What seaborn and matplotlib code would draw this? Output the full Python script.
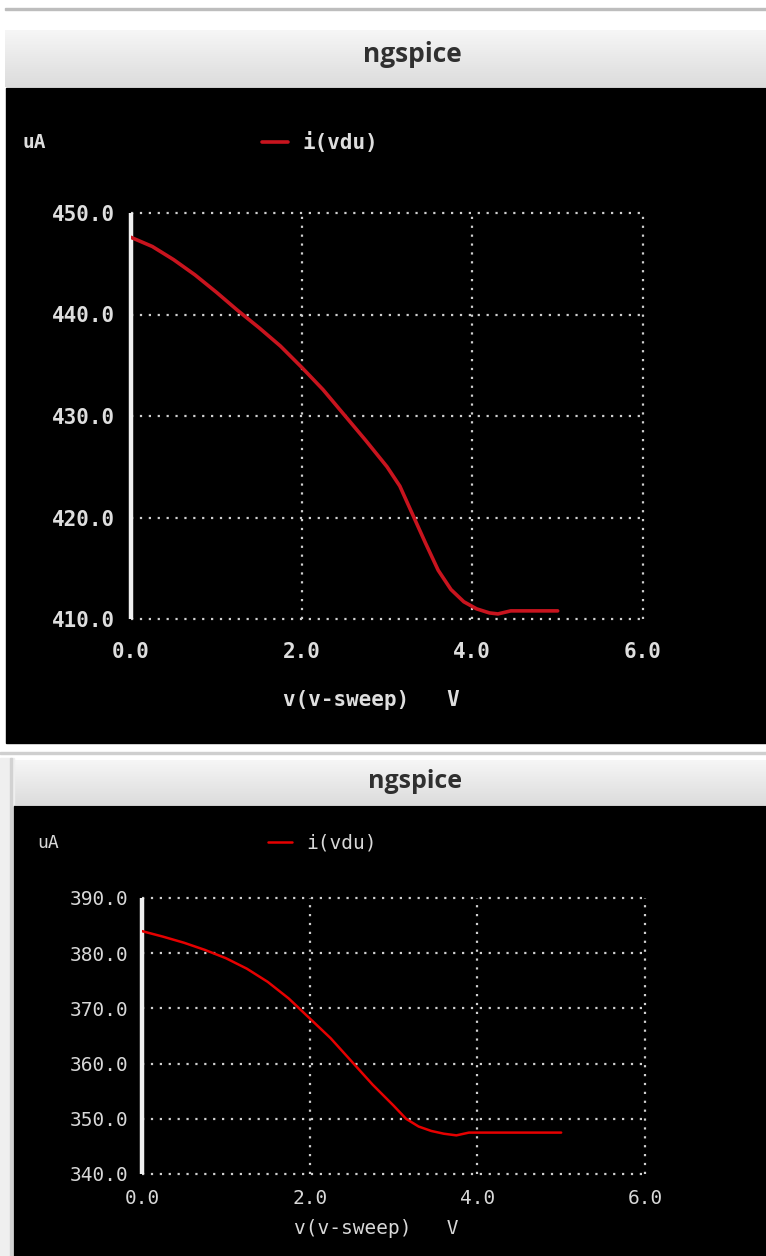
import numpy as np
import matplotlib
matplotlib.use("Agg")
import matplotlib.pyplot as plt
import seaborn as sns
from matplotlib.patches import Rectangle
from matplotlib.colors import LinearSegmentedColormap

# values (sweep voltage V, current uA)
v_top = [0.0, 0.25, 0.5, 0.75, 1.0, 1.25, 1.5, 1.75, 2.0, 2.25, 2.5, 2.75,
         3.0, 3.15, 3.3, 3.45, 3.6, 3.75, 3.9, 4.05, 4.2, 4.3, 4.45, 4.6, 4.8, 5.0]
i_top = [447.6, 446.7, 445.4, 443.9, 442.2, 440.4, 438.7, 436.9, 434.8, 432.6, 430.1, 427.6,
         425.0, 423.1, 420.3, 417.5, 414.8, 412.9, 411.7, 411.0, 410.6, 410.5, 410.8, 410.8,
         410.8, 410.8]

v_bot = [0.0, 0.25, 0.5, 0.75, 1.0, 1.25, 1.5, 1.75, 2.0, 2.25, 2.5, 2.75,
         3.0, 3.15, 3.3, 3.45, 3.6, 3.75, 3.9, 4.2, 4.6, 5.0]
i_bot = [384.0, 383.0, 381.9, 380.6, 379.1, 377.2, 374.8, 371.8, 368.2, 364.6, 360.4, 356.2,
         352.4, 350.0, 348.6, 347.8, 347.3, 347.0, 347.5, 347.5, 347.5, 347.5]

x_ticks = [0.0, 2.0, 4.0, 6.0]
y_ticks_top = [410.0, 420.0, 430.0, 440.0, 450.0]
y_ticks_bot = [340.0, 350.0, 360.0, 370.0, 380.0, 390.0]

W, H = 766, 1256

sns.set_theme(style="dark")
plt.rcParams['font.family'] = ['DejaVu Sans Mono', 'DejaVu Sans']

fig = plt.figure(figsize=(W / 100, H / 100), dpi=100, facecolor='white')


def px_axes(x0, y0, x1, y1):
    return fig.add_axes([x0 / W, 1 - y1 / H, (x1 - x0) / W, (y1 - y0) / H])


# window chrome drawn in pixel coordinates
bg = fig.add_axes([0, 0, 1, 1])
bg.axis('off')
bar_cmap = LinearSegmentedColormap.from_list('bar', ['#f6f6f6', '#e9e9e9', '#dcdcdc'])
grad = np.linspace(0, 1, 64).reshape(-1, 1)
bg.imshow(grad, extent=(5, W, 87, 30), cmap=bar_cmap, aspect='auto', zorder=1)
bg.imshow(grad, extent=(14, W, 805, 760), cmap=bar_cmap, aspect='auto', zorder=1)
bg.add_patch(Rectangle((5, 8), W - 5, 2, color='#bdbdbd', zorder=2))
bg.add_patch(Rectangle((6, 88), W - 6, 655, color='black', zorder=2))
bg.add_patch(Rectangle((0, 752), W, 2, color='#cfcfcf', zorder=2))
bg.add_patch(Rectangle((0, 758), 14, H - 758, color='#efefef', zorder=2))
bg.add_patch(Rectangle((10, 758), 2, H - 758, color='#d2d2d2', zorder=2))
bg.add_patch(Rectangle((14, 806), W - 14, H - 806, color='black', zorder=2))
bg.set_xlim(0, W)
bg.set_ylim(H, 0)

bg.text(412, 55, 'ngspice', ha='center', va='center', fontsize=19, fontweight='bold',
        color='#303030', family=['Open Sans', 'DejaVu Sans'], zorder=3)
bg.text(415, 781, 'ngspice', ha='center', va='center', fontsize=18, fontweight='bold',
        color='#303030', family=['Open Sans', 'DejaVu Sans'], zorder=3)
bg.text(22, 143, 'uA', ha='left', va='center', fontsize=14, fontweight='bold', color='#dddddd', zorder=3)
bg.text(37, 843, 'uA', ha='left', va='center', fontsize=13, color='#d8d8d8', zorder=3)

grid_c = '#d0d0d0'
dots = (0, (1, 3))


def draw_panel(ax, v, cur, yticks, color, lw, fs, weight, txt_c, ypad, xpad,
               xlab_pos, leg_pos):
    ax.set_facecolor('none')
    sns.lineplot(x=v, y=cur, ax=ax, color=color, linewidth=lw, label='i(vdu)', zorder=5)
    ax.set_xlim(x_ticks[0], x_ticks[-1])
    ax.set_ylim(yticks[0], yticks[-1])
    for s in ax.spines.values():
        s.set_visible(False)
    ax.grid(False)
    ax.hlines(yticks, x_ticks[0], x_ticks[-1], colors=grid_c, linestyles=dots,
              linewidth=1.6, clip_on=False, zorder=2)
    ax.vlines(x_ticks[1:], yticks[0], yticks[-1], colors=grid_c, linestyles=dots,
              linewidth=1.6, clip_on=False, zorder=2)
    ax.vlines(x_ticks[0], yticks[0], yticks[-1], colors='#f0f0f0', linewidth=3.2,
              clip_on=False, zorder=3)
    ax.set_xticks(x_ticks, [f'{t:.1f}' for t in x_ticks])
    ax.set_yticks(yticks, [f'{t:.1f}' for t in yticks])
    ax.tick_params(axis='both', length=0, colors=txt_c, labelsize=fs)
    ax.tick_params(axis='y', pad=ypad)
    ax.tick_params(axis='x', pad=xpad)
    for lab in ax.get_xticklabels() + ax.get_yticklabels():
        lab.set_fontweight(weight)
    ax.set_xlabel('v(v-sweep)   V', color=txt_c, fontsize=fs, fontweight=weight)
    ax.xaxis.set_label_coords(*xlab_pos)
    ax.xaxis.label.set_verticalalignment('center')
    ax.set_ylabel('')
    leg = ax.legend(loc='center left', bbox_to_anchor=leg_pos, bbox_transform=bg.transData,
                    frameon=False, fontsize=fs, handlelength=1.25, handletextpad=0.7,
                    borderpad=0, borderaxespad=0)
    for t in leg.get_texts():
        t.set_color(txt_c)
        t.set_fontweight(weight)


ax1 = px_axes(131, 213, 643, 619)
draw_panel(ax1, v_top, i_top, y_ticks_top, '#c8141e', 2.6, 15, 'bold', '#dedede',
           11.5, 16.5, (0.47, -0.2), (262, 143))

ax2 = px_axes(142, 898, 645, 1174)
draw_panel(ax2, v_bot, i_bot, y_ticks_bot, '#e60000', 1.8, 14, 'normal', '#d8d8d8',
           10, 11, (0.465, -0.196), (268, 843))

fig.savefig('out.png', dpi=100, facecolor='white')
